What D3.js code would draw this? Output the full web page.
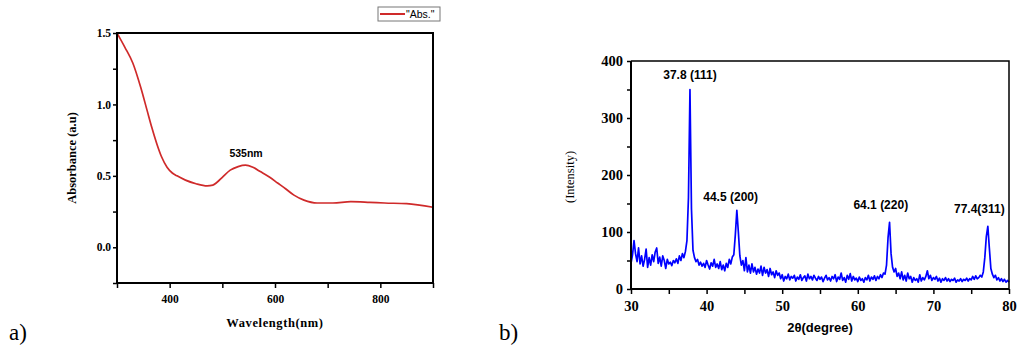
<!DOCTYPE html>
<html>
<head>
<meta charset="utf-8">
<script src="https://cdn.jsdelivr.net/npm/d3@7"></script>
<style>
  body { margin: 0; background: #fff; }
  svg { display: block; }
</style>
</head>
<body>
<svg id="chart" width="1017" height="347"></svg>
<script>
//
// Data
//

// a) UV-vis absorbance
const wavelength = [300, 315, 330, 345, 357, 366, 376, 385, 395, 405, 414, 430, 450, 471, 482, 490, 500, 515, 530, 544, 558, 572, 590, 605, 620, 636, 655, 680, 710, 744, 780, 808, 850, 900]
const absorbance = [1.5, 1.4, 1.29, 1.12, 0.96, 0.84, 0.72, 0.63, 0.56, 0.52, 0.50, 0.47, 0.445, 0.43, 0.435, 0.455, 0.49, 0.54, 0.565, 0.575, 0.56, 0.53, 0.49, 0.45, 0.41, 0.365, 0.33, 0.31, 0.31, 0.32, 0.315, 0.31, 0.305, 0.28]
const absTicksX = [400, 600, 800]
const absTicksY = [0.0, 0.5, 1.0, 1.5]

// b) XRD pattern, 30..80 deg every 0.2 deg
const xrdStart = 30
const xrdStep = 0.2
const xrdIntensity = [
  45, 60, 85, 62, 48, 72, 44, 58, 40, 52,   // 30.0
  70, 38, 55, 42, 60, 48, 65, 72, 45, 56,   // 32.0
  40, 58, 50, 36, 52, 44, 47, 41, 50, 46,   // 34.0
  53, 45, 58, 50, 62, 55, 66, 85, 160, 350, // 36.0
  140, 68, 55, 48, 52, 42, 47, 40, 45, 38,  // 38.0
  50, 42, 35, 46, 40, 52, 38, 44, 36, 48,   // 40.0
  34, 42, 32, 45, 38, 52, 44, 56, 60, 95,   // 42.0
  138, 100, 58, 42, 50, 32, 55, 30, 42, 28, // 44.0
  44, 30, 38, 26, 35, 28, 40, 24, 38, 28,   // 46.0
  34, 22, 36, 25, 30, 20, 32, 24, 28, 18,   // 48.0
  25, 14, 22, 18, 26, 16, 22, 19, 24, 14,   // 50.0
  21, 17, 25, 15, 20, 23, 14, 26, 18, 22,   // 52.0
  16, 24, 19, 15, 22, 17, 21, 13, 19, 24,   // 54.0
  16, 20, 14, 22, 18, 25, 13, 21, 17, 28,   // 56.0
  15, 20, 12, 24, 17, 27, 14, 22, 16, 19,   // 58.0
  13, 21, 15, 18, 12, 20, 16, 24, 14, 21,   // 60.0
  17, 23, 15, 22, 18, 25, 20, 28, 26, 42,   // 62.0
  90, 117, 62, 38, 30, 36, 22, 28, 18, 30,  // 64.0
  16, 24, 14, 28, 18, 22, 12, 20, 15, 18,   // 66.0
  12, 25, 14, 20, 16, 22, 32, 18, 24, 15,   // 68.0
  20, 17, 22, 14, 19, 12, 18, 15, 20, 14,   // 70.0
  18, 13, 17, 15, 19, 12, 16, 14, 18, 13,   // 72.0
  17, 15, 19, 14, 18, 16, 22, 17, 23, 18,   // 74.0
  20, 24, 21, 30, 55, 92, 110, 72, 36, 26,  // 76.0
  20, 24, 16, 20, 14, 18, 13, 17, 12, 15,   // 78.0
  12                                        // 80.0
]
const xrdTicksX = [30, 40, 50, 60, 70, 80]
const xrdTicksY = [0, 100, 200, 300, 400]
const peakLabels = ["37.8 (111)", "44.5 (200)", "64.1 (220)", "77.4(311)"]
const peakPos = [37.8, 44.5, 64.1, 77.4]
const peakHeight = [350, 138, 117, 110]

const serif = "Liberation Serif, Times New Roman, serif"
const sans = "Liberation Sans, Arial, sans-serif"

const svg = d3.select("#chart")

//
// Panel a
//

const ax = d3.scaleLinear().domain([300, 900]).range([117, 433])
const ay = d3.scaleLinear().domain([-0.25, 1.5]).range([283, 33])

const ga = svg.append("g")

ga.append("g")
  .attr("transform", "translate(0,283)")
  .call(d3.axisBottom(ax).tickValues(d3.range(300, 901, 100)).tickSize(5).tickFormat(d => absTicksX.includes(d) ? d : ""))
  .attr("font-family", serif).attr("font-weight", "bold")
  .call(g => g.select(".domain").remove())
  .call(g => g.selectAll(".tick line").attr("stroke-width", 1.5))
  .call(g => g.selectAll(".tick text").attr("font-size", 11.5).attr("dy", "1.05em"))

ga.append("g")
  .attr("transform", "translate(117,0)")
  .call(d3.axisLeft(ay).tickValues(d3.range(-0.25, 1.51, 0.25)).tickSize(4).tickFormat(d => absTicksY.some(t => Math.abs(t - d) < 1e-6) ? d3.format(".1f")(d) : ""))
  .attr("font-family", serif).attr("font-weight", "bold")
  .call(g => g.select(".domain").remove())
  .call(g => g.selectAll(".tick line").attr("stroke-width", 1.5))
  .call(g => g.selectAll(".tick text").attr("font-size", 11.5).attr("x", -6))

ga.append("path")
  .datum(d3.zip(wavelength, absorbance))
  .attr("fill", "none")
  .attr("stroke", "#cf2a2a")
  .attr("stroke-width", 1.7)
  .attr("d", d3.line().x(d => ax(d[0])).y(d => ay(d[1])).curve(d3.curveMonotoneX))

ga.append("rect")
  .attr("x", 117).attr("y", 33).attr("width", 316).attr("height", 250)
  .attr("fill", "none").attr("stroke", "#000").attr("stroke-width", 2)

ga.append("text")
  .attr("x", ax(545)).attr("y", 157)
  .attr("text-anchor", "middle")
  .attr("font-family", sans)
  .attr("font-weight", "bold").attr("font-size", 10.5)
  .text("535nm")

ga.append("text")
  .attr("transform", "translate(76,158) rotate(-90)")
  .attr("text-anchor", "middle")
  .attr("font-family", serif)
  .attr("font-weight", "bold").attr("font-size", 12.5)
  .text("Absorbance (a.u)")

ga.append("text")
  .attr("x", 275).attr("y", 327)
  .attr("text-anchor", "middle")
  .attr("font-family", serif)
  .attr("font-weight", "bold").attr("font-size", 12.5)
  .attr("letter-spacing", 0.6)
  .text("Wavelength(nm)")

// legend
const leg = ga.append("g")
leg.append("rect")
  .attr("x", 378).attr("y", 7).attr("width", 62).attr("height", 14)
  .attr("fill", "#fff").attr("stroke", "#777").attr("stroke-width", 1)
leg.append("line")
  .attr("x1", 380).attr("x2", 405).attr("y1", 14).attr("y2", 14)
  .attr("stroke", "#cf2a2a").attr("stroke-width", 2)
leg.append("text")
  .attr("x", 406).attr("y", 18)
  .attr("font-family", sans)
  .attr("font-size", 10.5)
  .text("\"Abs.\"")

svg.append("text")
  .attr("x", 9).attr("y", 340)
  .attr("font-family", serif)
  .attr("font-size", 23)
  .text("a)")

//
// Panel b
//

const bx = d3.scaleLinear().domain([30, 80]).range([631, 1009])
const by = d3.scaleLinear().domain([0, 400]).range([289, 61])

const gb = svg.append("g")

gb.append("g")
  .attr("transform", "translate(0,289)")
  .call(d3.axisBottom(bx).tickValues(d3.range(30, 80.1, 5)).tickSize(5).tickFormat(d => xrdTicksX.includes(d) ? d : ""))
  .attr("font-family", serif).attr("font-weight", "bold")
  .call(g => g.select(".domain").remove())
  .call(g => g.selectAll(".tick line").attr("stroke-width", 1.5))
  .call(g => g.selectAll(".tick text").attr("font-size", 14.5).attr("dy", "0.95em"))

gb.append("g")
  .attr("transform", "translate(631,0)")
  .call(d3.axisLeft(by).tickValues(d3.range(0, 401, 50)).tickSize(4).tickFormat(d => xrdTicksY.includes(d) ? d : ""))
  .attr("font-family", serif).attr("font-weight", "bold")
  .call(g => g.select(".domain").remove())
  .call(g => g.selectAll(".tick line").attr("stroke-width", 1.5))
  .call(g => g.selectAll(".tick text").attr("font-size", 14.5).attr("x", -8))

gb.append("path")
  .datum(xrdIntensity)
  .attr("fill", "none")
  .attr("stroke", "#0000ff")
  .attr("stroke-width", 1.7)
  .attr("stroke-linejoin", "round")
  .attr("d", d3.line().x((d, i) => bx(xrdStart + i * xrdStep)).y(d => by(d)))

gb.append("path")
  .attr("d", `M631,61H1009V289`)
  .attr("fill", "none").attr("stroke", "#000").attr("stroke-width", 1.5)
gb.append("path")
  .attr("d", `M631,61V289H1009`)
  .attr("fill", "none").attr("stroke", "#000").attr("stroke-width", 2)

const labelDx = [0, -10, -8, -10]
const labelDy = [-11, -9, -13, -13]
gb.selectAll(".peak")
  .data(peakLabels)
  .enter()
  .append("text")
  .attr("class", "peak")
  .attr("x", (d, i) => bx(peakPos[i]) + labelDx[i])
  .attr("y", (d, i) => by(peakHeight[i]) + labelDy[i])
  .attr("text-anchor", "middle")
  .attr("font-family", sans)
  .attr("font-weight", "bold").attr("font-size", 12)
  .text(d => d)

gb.append("text")
  .attr("transform", "translate(574,177) rotate(-90)")
  .attr("text-anchor", "middle")
  .attr("font-family", serif)
  .attr("font-size", 12.5)
  .text("(Intensity)")

gb.append("text")
  .attr("x", 820).attr("y", 332)
  .attr("text-anchor", "middle")
  .attr("font-family", sans)
  .attr("font-weight", "bold").attr("font-size", 13)
  .text("2θ(degree)")

svg.append("text")
  .attr("x", 499).attr("y", 340)
  .attr("font-family", serif)
  .attr("font-size", 23)
  .text("b)")
</script>
</body>
</html>
